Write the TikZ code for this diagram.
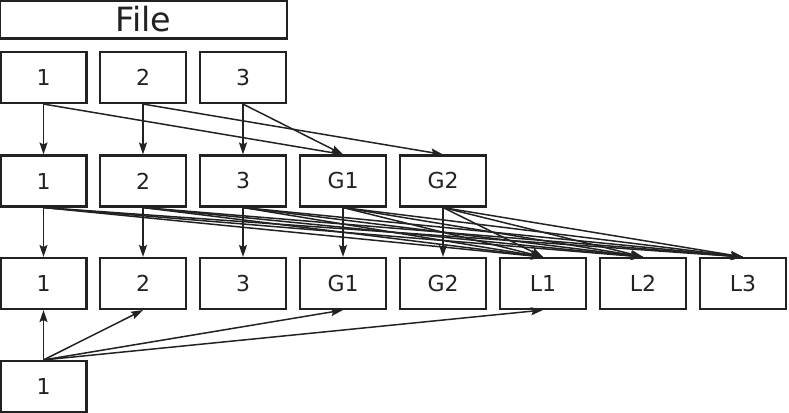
\documentclass[tikz,border=0pt]{standalone}
\usepackage{fontspec}
\setmainfont{DejaVu Sans}
\usetikzlibrary{arrows.meta}
\definecolor{boxdraw}{HTML}{222222}

\begin{document}
\begin{tikzpicture}[
  x=0.02cm, y=-0.02cm,
  font=\fontsize{12.5}{14}\selectfont,
  >={Stealth[length=2.4mm,width=1.6mm,inset=0.4mm]},
  signal/.style={->, draw=boxdraw, line width=0.85pt},
  block/.style={
    draw=boxdraw, line width=1.2pt, text=boxdraw,
    minimum width=1.72cm, minimum height=1.02cm,
    inner sep=0pt, align=center
  },
  filebox/.style={
    block, minimum width=5.74cm, minimum height=0.76cm,
    font=\fontsize{19}{21}\selectfont
  }
]
\useasboundingbox (0,0) rectangle (789,413);

% Source file and its blocks.
\node[filebox] (file) at (143.5, 19.5) {File};
\node[block] (in1) at (43.5, 77.5) {1};
\node[block] (in2) at (143, 77.5) {2};
\node[block] (in3) at (243, 77.5) {3};

% Second stage.
\node[block] (mid1) at (43.5, 181) {1};
\node[block] (mid2) at (143, 181) {2};
\node[block] (mid3) at (243, 181) {3};
\node[block] (midG1) at (343, 181) {G1};
\node[block] (midG2) at (443, 181) {G2};

% Third stage.
\node[block] (out1) at (43.5, 283.5) {1};
\node[block] (out2) at (143, 283.5) {2};
\node[block] (out3) at (243, 283.5) {3};
\node[block] (outG1) at (343, 283.5) {G1};
\node[block] (outG2) at (443, 283.5) {G2};
\node[block] (outL1) at (543, 283.5) {L1};
\node[block] (outL2) at (643, 283.5) {L2};
\node[block] (outL3) at (743, 283.5) {L3};

% Extra block below.
\node[block] (extra1) at (43.5, 386.5) {1};

% First stage to second stage.
\draw[signal] (in1.south) -- (mid1.north);
\draw[signal] (in1.south) -- (midG1.north);
\draw[signal] (in2.south) -- (mid2.north);
\draw[signal] (in2.south) -- (midG2.north);
\draw[signal] (in3.south) -- (mid3.north);
\draw[signal] (in3.south) -- (midG1.north);

% Second stage to third stage: straight copies.
\draw[signal] (mid1.south) -- (out1.north);
\draw[signal] (mid2.south) -- (out2.north);
\draw[signal] (mid3.south) -- (out3.north);
\draw[signal] (midG1.south) -- (outG1.north);
\draw[signal] (midG2.south) -- (outG2.north);

% Second stage to third stage: fan-out to L1, L2, L3.
\draw[signal] (mid1.south) -- (outL1.north);
\draw[signal] (mid1.south) -- (outL2.north);
\draw[signal] (mid1.south) -- (outL3.north);
\draw[signal] (mid2.south) -- (outL1.north);
\draw[signal] (mid2.south) -- (outL2.north);
\draw[signal] (mid2.south) -- (outL3.north);
\draw[signal] (mid3.south) -- (outL1.north);
\draw[signal] (mid3.south) -- (outL2.north);
\draw[signal] (mid3.south) -- (outL3.north);
\draw[signal] (midG1.south) -- (outL1.north);
\draw[signal] (midG1.south) -- (outL2.north);
\draw[signal] (midG1.south) -- (outL3.north);
\draw[signal] (midG2.south) -- (outL1.north);
\draw[signal] (midG2.south) -- (outL2.north);
\draw[signal] (midG2.south) -- (outL3.north);

% Extra block feeding the third stage.
\draw[signal] (extra1.north) -- (out1.south);
\draw[signal] (extra1.north) -- (out2.south);
\draw[signal] (extra1.north) -- (outG1.south);
\draw[signal] (extra1.north) -- (outL1.south);

\end{tikzpicture}
\end{document}
